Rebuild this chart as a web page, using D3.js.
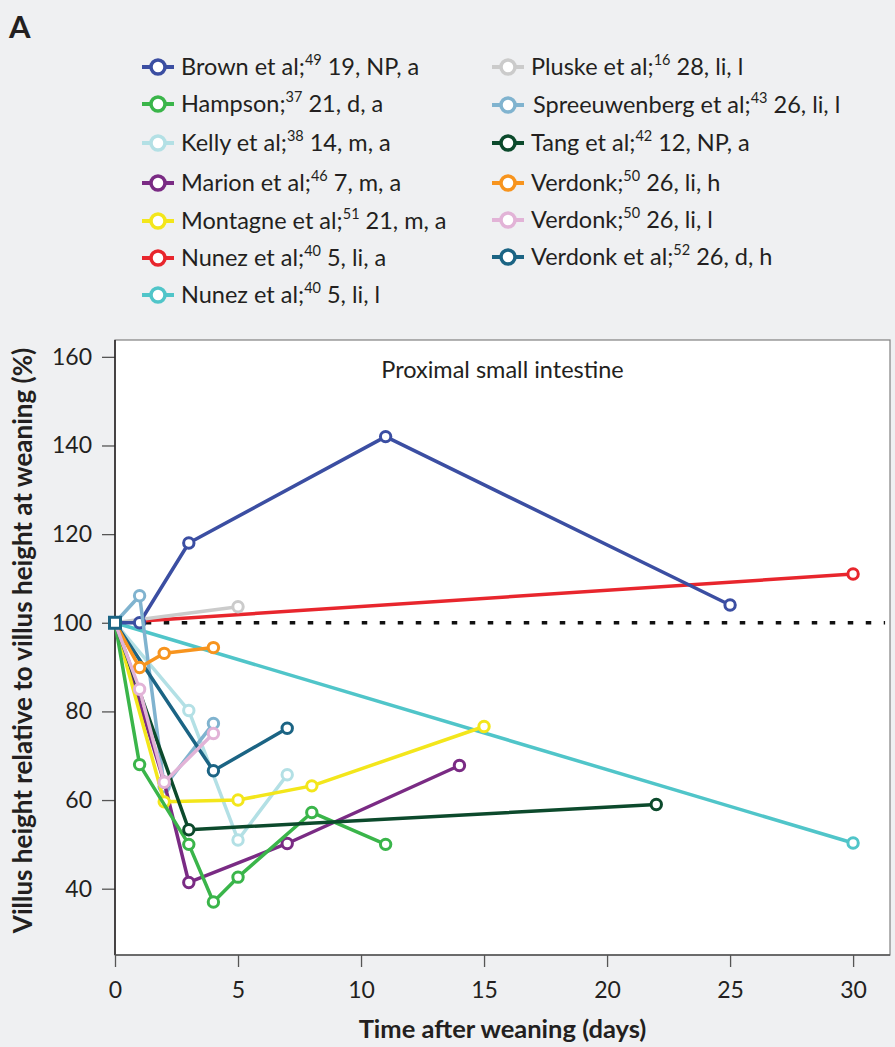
<!DOCTYPE html>
<html><head><meta charset="utf-8">
<script src="https://cdn.jsdelivr.net/npm/d3@7"></script>
<style>
html,body{margin:0;padding:0;background:#eff0f2;}
svg{display:block;}
text{font-family:Lato,"Open Sans",sans-serif;fill:#231f20;}
</style></head>
<body>
<script>
// ---- data ----
const seriesNames = ["Brown et al;","Hampson;","Kelly et al;","Marion et al;","Montagne et al;","Nunez et al;","Nunez et al;",
  "Pluske et al;","Spreeuwenberg et al;","Tang et al;","Verdonk;","Verdonk;","Verdonk et al;"];
const seriesRefs = ["49","37","38","46","51","40","40","16","43","42","50","50","52"];
const seriesInfo = [" 19, NP, a"," 21, d, a"," 14, m, a"," 7, m, a"," 21, m, a"," 5, li, a"," 5, li, l",
  " 28, li, l"," 26, li, l"," 12, NP, a"," 26, li, h"," 26, li, l"," 26, d, h"];
const seriesDays = [
  [0,1,3,11,25],
  [0,1,3,4,5,8,11],
  [0,3,5,7],
  [0,2,3,7,14],
  [0,2,5,8,15],
  [0,30],
  [0,30],
  [0,5],
  [0,1,2,4],
  [0,3,22],
  [0,1,2,4],
  [0,1,2,4],
  [0,4,7]
];
const seriesValues = [
  [100,100,118,142,104],
  [100,68,50,37,42.6,57.2,50],
  [100,80.2,51,65.7],
  [100,64,41.4,50.2,67.8],
  [100,59.6,60,63.2,76.6],
  [100,111],
  [100,50.3],
  [100,103.6],
  [100,106.1,63,77.3],
  [100,53.3,59],
  [100,89.9,93.1,94.4],
  [100,85,64,75],
  [100,66.6,76.2]
];
const xTicks = [0,5,10,15,20,25,30];
const yTicks = [40,60,80,100,120,140,160];
const baselineValue = 100;
const panelLabel = "A";
const plotTitle = "Proximal small intestine";
const xTitle = "Time after weaning (days)";
const yTitle = "Villus height relative to villus height at weaning (%)";

// ---- styles ----
const colors = ["#3b4ea2","#3ab54a","#b3e0e5","#7a2b84","#f3e61b","#e8262d","#50c5c9",
  "#cbcbcb","#80b3cf","#0c4a2c","#f7941e","#e2b3d7","#1b6484"];
const drawOrder = [6,5,7,2,0,8,3,4,1,9,12,10,11];

const W = 895, H = 1047;
const L = 115, R = 890, T = 340, B = 955;
const svg = d3.select("body").append("svg").attr("width",W).attr("height",H);

const x = d3.scaleLinear().domain([0,31.5]).range([L,R]);
const y = d3.scaleLinear().domain([25.04,163.8]).range([B,T]);

// plot box
svg.append("rect").attr("x",L).attr("y",T).attr("width",R-L).attr("height",B-T)
  .attr("fill","#fff").attr("stroke","#808080").attr("stroke-width",1.2);

// axes
const xAxis = svg.append("g").attr("transform",`translate(0,${B})`)
  .call(d3.axisBottom(x).tickValues(xTicks).tickSize(12).tickPadding(15).tickFormat(d3.format("d")));
const yAxis = svg.append("g").attr("transform",`translate(${L},0)`)
  .call(d3.axisLeft(y).tickValues(yTicks).tickSize(13).tickPadding(10).tickFormat(d3.format("d")));
[xAxis,yAxis].forEach(g=>{
  g.select(".domain").remove();
  g.selectAll(".tick line").attr("stroke","#555").attr("stroke-width",1.3);
  g.selectAll(".tick text").attr("font-size",23).attr("fill","#231f20").style("font-family","Lato,'Open Sans',sans-serif");
});
svg.append("line").attr("x1",L).attr("x2",L).attr("y1",T).attr("y2",B).attr("stroke","#231f20").attr("stroke-width",1.5);
svg.append("line").attr("x1",L).attr("x2",R).attr("y1",B).attr("y2",B).attr("stroke","#555").attr("stroke-width",1.3);

// baseline dotted
svg.append("line").attr("x1",x(1.25)).attr("x2",x(31.3)).attr("y1",y(baselineValue)).attr("y2",y(baselineValue))
  .attr("stroke","#111").attr("stroke-width",3.5).attr("stroke-dasharray","5.5,12.5");

// series
const line = d3.line().x(d=>x(d[0])).y(d=>y(d[1]));
drawOrder.forEach(i=>{
  const pts = seriesDays[i].map((d,j)=>[d,seriesValues[i][j]]);
  const g = svg.append("g");
  g.append("path").attr("d",line(pts)).attr("fill","none").attr("stroke",colors[i])
    .attr("stroke-width",3.5).attr("stroke-linejoin","round");
  g.selectAll("circle").data(pts.filter(p=>p[0]>0)).join("circle")
    .attr("cx",p=>x(p[0])).attr("cy",p=>y(p[1])).attr("r",5.2)
    .attr("fill","#fff").attr("stroke",colors[i]).attr("stroke-width",3);
});
// origin marker
svg.append("rect").attr("x",x(0)-5.5).attr("y",y(baselineValue)-5.5).attr("width",11).attr("height",11)
  .attr("fill","#fff").attr("stroke",colors[12]).attr("stroke-width",3);

// title in plot
svg.append("text").attr("x",(L+R)/2).attr("y",378).attr("text-anchor","middle")
  .attr("font-size",23.5).text(plotTitle);

// axis titles
svg.append("text").attr("x",(L+R)/2).attr("y",1038).attr("text-anchor","middle")
  .attr("font-size",25.5).attr("font-weight","bold").text(xTitle);
svg.append("text").attr("transform",`translate(32,${(T+B)/2-7}) rotate(-90)`).attr("text-anchor","middle")
  .attr("font-size",26).attr("font-weight","bold").text(yTitle);

// panel label
svg.append("text").attr("x",9).attr("y",38).attr("font-size",31).attr("font-weight","bold").text(panelLabel);

// legend
const legRowsL = [67,104,143,183,221,258,295];
const legRowsR = [67,105,143,183,220,257];
seriesNames.forEach((nm,i)=>{
  const left = i<7;
  const cy = left ? legRowsL[i] : legRowsR[i-7];
  const cx = left ? 158 : 508;
  const g = svg.append("g");
  g.append("line").attr("x1",cx-16).attr("x2",cx+16).attr("y1",cy).attr("y2",cy)
    .attr("stroke",colors[i]).attr("stroke-width",4);
  g.append("circle").attr("cx",cx).attr("cy",cy).attr("r",7).attr("fill","#fff")
    .attr("stroke",colors[i]).attr("stroke-width",3.5);
  const t = g.append("text").attr("x",cx+(i===8?25:23)).attr("y",cy+8).attr("font-size",23.5);
  t.append("tspan").text(nm);
  t.append("tspan").attr("font-size",14.5).attr("dy",-10).text(seriesRefs[i]);
  t.append("tspan").attr("dy",10).text(seriesInfo[i]);
});
</script>
</body></html>
